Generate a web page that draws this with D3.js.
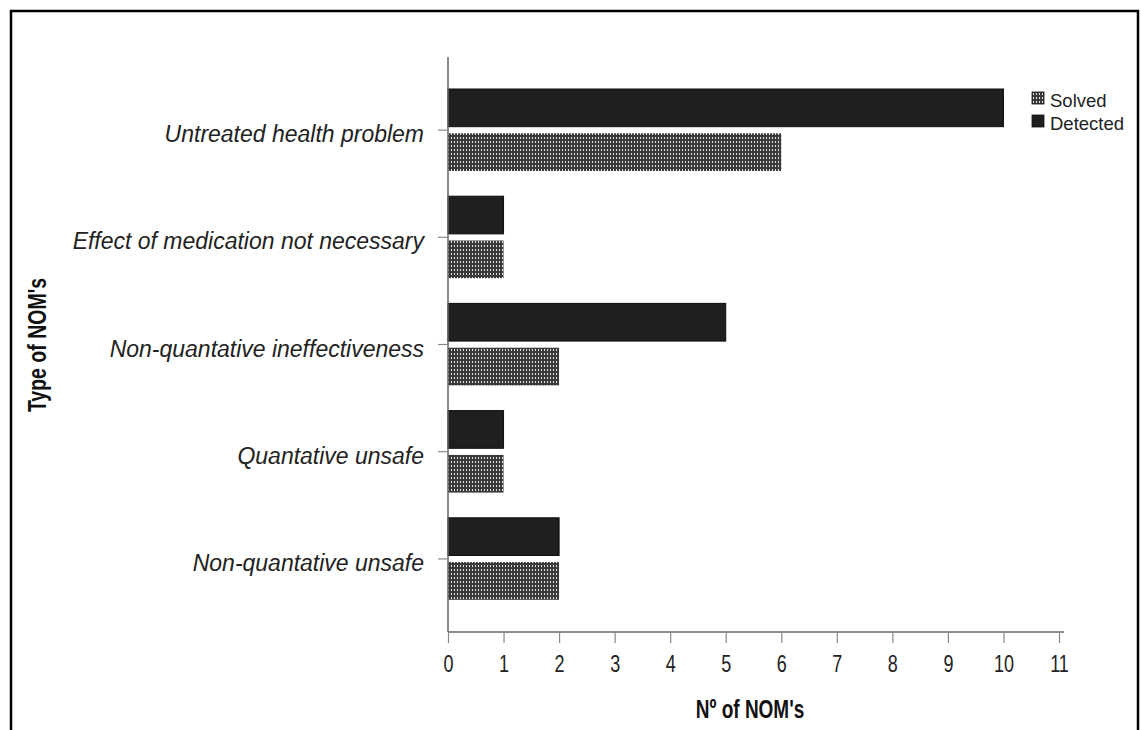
<!DOCTYPE html>
<html><head><meta charset="utf-8">
<script src="https://cdn.jsdelivr.net/npm/d3@7"></script>
<style>body{margin:0;background:#fff}svg{display:block}</style>
</head><body><svg id="c" width="1141" height="730"></svg>
<script>
const categories = ["Untreated health problem","Effect of medication not necessary","Non-quantative ineffectiveness","Quantative unsafe","Non-quantative unsafe"];
const detected = [10,1,5,1,2];
const solved = [6,1,2,1,2];
const seriesNames = ["Detected","Solved"];
const xTicks = [0,1,2,3,4,5,6,7,8,9,10,11];
const FONT = "Liberation Sans, Arial, sans-serif";

const svg = d3.select("#c");
const defs = svg.append("defs");
const pat = defs.append("pattern").attr("id","chk").attr("patternUnits","userSpaceOnUse").attr("width",3).attr("height",4);
pat.append("rect").attr("width",3).attr("height",4).attr("fill","#3a3a3a");
pat.append("rect").attr("x",1).attr("y",1).attr("width",1).attr("height",2).attr("fill","#e4e4e4");

// frame
svg.append("path").attr("d","M11,730 V11 H1138 V730").attr("fill","none").attr("stroke","#000").attr("stroke-width",2.5);

const x = d3.scaleLinear().domain([0,11]).range([448,1059]);
const y = d3.scaleBand().domain(categories).range([76.5,612.5]);
const sub = d3.scaleBand().domain(seriesNames).range([12.5,94.5]).paddingInner(0.15);

// bars
const g = svg.append("g");
categories.forEach((c,i)=>{
  g.append("rect").attr("x",x(0)).attr("y",y(c)+sub("Detected")).attr("width",x(detected[i])-x(0)).attr("height",sub.bandwidth())
   .attr("fill","#1f1f1f").attr("stroke","#0d0d0d").attr("stroke-width",1);
  g.append("rect").attr("x",x(0)).attr("y",y(c)+sub("Solved")).attr("width",x(solved[i])-x(0)).attr("height",sub.bandwidth())
   .attr("fill","url(#chk)");
});

// axes
const xa = svg.append("g").attr("transform","translate(0,632)")
  .call(d3.axisBottom(x).tickValues(xTicks).tickSize(11).tickFormat(d3.format("d")));
xa.select(".domain").attr("d","M448,0H1064").attr("stroke","#666").attr("stroke-width",1.5);
xa.selectAll(".tick line").attr("stroke","#888").attr("stroke-width",1.2);
xa.selectAll(".tick text").attr("y",0).attr("dy",0).attr("transform","translate(0,40) scale(1,1.3)")
  .attr("font-family",FONT).attr("font-size",18).attr("fill","#222");

const ya = svg.append("g").attr("transform","translate(448,0)")
  .call(d3.axisLeft(y).tickSize(10));
ya.select(".domain").attr("d","M0,57V632").attr("stroke","#666").attr("stroke-width",1.5);
ya.selectAll(".tick line").attr("stroke","#888").attr("stroke-width",1.2);
ya.selectAll(".tick text").attr("x",0).attr("dy",0).attr("transform","translate(-24,12) scale(1,1.08)")
  .attr("font-family",FONT).attr("font-size",23).attr("font-style","italic").attr("fill","#222");

// axis titles
svg.append("text").attr("transform","translate(750,718) scale(1,1.4)").attr("text-anchor","middle")
  .attr("font-family",FONT).attr("font-weight","bold").attr("font-size",19).attr("fill","#111").text("Nº of NOM's");
svg.append("text").attr("transform","translate(46,345) rotate(-90) scale(1,1.35)").attr("text-anchor","middle")
  .attr("font-family",FONT).attr("font-weight","bold").attr("font-size",19.5).attr("fill","#111").text("Type of NOM's");

// legend
const leg = [{n:"Solved",f:"url(#chk)"},{n:"Detected",f:"#1f1f1f"}];
leg.forEach((d,i)=>{
  svg.append("rect").attr("x",1032).attr("y",92+i*23).attr("width",12).attr("height",12).attr("fill",d.f).attr("stroke","#111").attr("stroke-width",0.8);
  svg.append("text").attr("x",1050).attr("y",107+i*23).attr("font-family",FONT).attr("font-size",18.5).attr("fill","#222").text(d.n);
});
</script></body></html>
